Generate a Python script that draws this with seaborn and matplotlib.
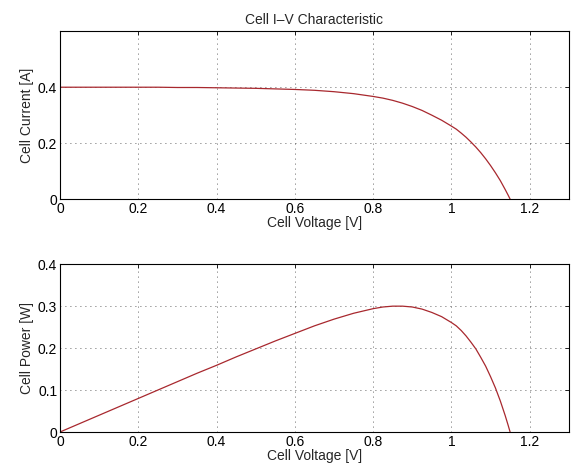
import matplotlib
matplotlib.use("Agg")
import matplotlib.pyplot as plt
import pandas as pd
import seaborn as sns
from matplotlib.ticker import FuncFormatter

# values
voltage = [0.00, 0.05, 0.10, 0.15, 0.20, 0.25, 0.30, 0.35, 0.40, 0.45, 0.50,
           0.55, 0.60, 0.65, 0.70, 0.75, 0.80, 0.825, 0.85, 0.875, 0.90, 0.925,
           0.95, 0.975, 1.00, 1.0125, 1.025, 1.0375, 1.05, 1.0625, 1.075,
           1.0875, 1.10, 1.1125, 1.125, 1.1375, 1.145, 1.15]
current = [0.400, 0.400, 0.400, 0.400, 0.400, 0.400, 0.399, 0.399, 0.398, 0.397,
           0.396, 0.394, 0.392, 0.389, 0.384, 0.377, 0.367, 0.361, 0.353, 0.343,
           0.331, 0.317, 0.300, 0.282, 0.261, 0.250, 0.236, 0.221, 0.204, 0.186,
           0.166, 0.144, 0.120, 0.094, 0.066, 0.034, 0.014, 0.000]
power = [0.000, 0.020, 0.040, 0.060, 0.080, 0.100, 0.120, 0.140, 0.159, 0.179,
         0.198, 0.217, 0.235, 0.253, 0.269, 0.283, 0.294, 0.298, 0.300, 0.300,
         0.298, 0.293, 0.285, 0.275, 0.261, 0.253, 0.242, 0.229, 0.214, 0.198,
         0.178, 0.157, 0.132, 0.105, 0.074, 0.039, 0.016, 0.000]

x_ticks = [0, 0.2, 0.4, 0.6, 0.8, 1.0, 1.2]
i_ticks = [0, 0.2, 0.4]
p_ticks = [0, 0.1, 0.2, 0.3, 0.4]

LINE_COLOR = "#a8282e"
FS = 10

df = pd.DataFrame({"voltage": voltage, "current": current, "power": power})

sns.set_style("white")
plt.rcParams["font.family"] = ["Liberation Sans", "DejaVu Sans"]
plt.rcParams["font.size"] = FS

fig = plt.figure(figsize=(5.73, 4.74), dpi=100)
ax_i = fig.add_axes([0.1047, 0.580, 0.888, 0.354])
ax_p = fig.add_axes([0.1047, 0.0886, 0.888, 0.354])

fmt = FuncFormatter(lambda v, _: f"{v:g}")

panels = [
    (ax_i, "current", "Cell Current [A]", (0, 0.6), i_ticks),
    (ax_p, "power", "Cell Power [W]", (0, 0.4), p_ticks),
]
for ax, col, ylabel, ylim, yticks in panels:
    sns.lineplot(data=df, x="voltage", y=col, ax=ax, color=LINE_COLOR,
                 linewidth=0.9, sort=False)
    ax.set_xlim(0, 1.3)
    ax.set_ylim(*ylim)
    ax.set_xticks(x_ticks)
    ax.set_yticks(yticks)
    ax.xaxis.set_major_formatter(fmt)
    ax.yaxis.set_major_formatter(fmt)
    ax.set_xlabel("Cell Voltage [V]", fontsize=FS, labelpad=0)
    ax.set_ylabel(ylabel, fontsize=FS, labelpad=3)
    ax.grid(True, linestyle=(0, (1, 5)), color="black", linewidth=0.6, alpha=0.8)
    ax.tick_params(direction="in", top=True, right=True, length=3, width=0.6,
                   labelsize=FS, pad=2, colors="black")
    for spine in ax.spines.values():
        spine.set_visible(True)
        spine.set_color("black")
        spine.set_linewidth(0.8)

ax_i.set_title("Cell I\u2013V Characteristic", fontsize=FS, pad=5)

fig.savefig("out.png", dpi=100)
